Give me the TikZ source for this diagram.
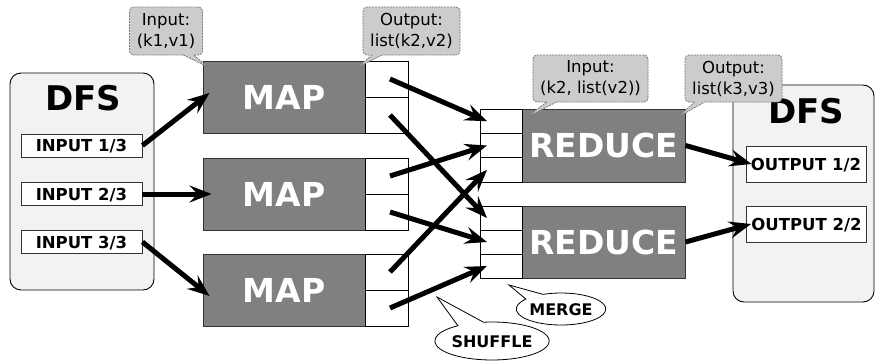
\documentclass[tikz,border=0pt]{standalone}
\usepackage{fontspec}
\setmainfont{DejaVu Sans}
\usetikzlibrary{arrows.meta,shapes.callouts,shapes.geometric}
\definecolor{mapgray}{HTML}{808080}
\definecolor{dfsgray}{HTML}{F2F2F2}
\definecolor{callgray}{HTML}{CCCCCC}
\definecolor{calledge}{HTML}{7A7A7A}
\definecolor{edgedark}{HTML}{333333}
\begin{document}
\begin{tikzpicture}[x=1pt,y=-1pt,
  dfsbox/.style={draw=black, fill=dfsgray, rounded corners=11pt, line width=0.9pt, inner sep=0pt},
  dfstitle/.style={inner sep=0pt, font=\fontsize{34}{36}\selectfont\bfseries, text height=25pt, text depth=0pt},
  iobox/.style={draw=edgedark, fill=white, line width=0.9pt, inner sep=0pt, font=\fontsize{16.5}{18}\selectfont\bfseries, text height=12pt, text depth=0pt},
  proc/.style={draw=edgedark, fill=mapgray, line width=0.9pt, inner sep=0pt, text=white, font=\fontsize{33}{36}\selectfont\bfseries, text height=24pt, text depth=0pt},
  slot/.style={draw=black, fill=white, line width=0.8pt, inner sep=0pt},
  conn/.style={line width=5pt, -{Stealth[length=22pt,width=17pt,inset=8pt]}},
  note/.style={rectangle callout, draw=calledge, dash pattern=on 2pt off 1pt, fill=callgray, rounded corners=4pt, line width=0.8pt, inner sep=0pt, align=center, callout pointer width=10pt, font=\fontsize{16.5}{21}\selectfont},
  bubble/.style={ellipse callout, draw=black, fill=white, line width=0.8pt, inner sep=0pt, callout pointer arc=28, font=\fontsize{16}{18}\selectfont\bfseries, text height=12pt, text depth=0pt}
]
\useasboundingbox (0,0) rectangle (875,362);
\fill[white] (0,0) rectangle (875,362);

% DFS containers
\node[dfsbox, minimum width=144pt, minimum height=217pt] (dfsL) at (82,181.5) {};
\node[dfstitle] (dfsLt) at (83,97.5) {DFS};
\node[dfsbox, minimum width=141pt, minimum height=217pt] (dfsR) at (803.5,193.5) {};
\node[dfstitle] (dfsRt) at (806,111) {DFS};

\node[iobox, minimum width=121pt, minimum height=23pt] (in1) at (81.5,145.5) {INPUT 1/3};
\node[iobox, minimum width=121pt, minimum height=23pt] (in2) at (81.5,194) {INPUT 2/3};
\node[iobox, minimum width=121pt, minimum height=23pt] (in3) at (81.5,242) {INPUT 3/3};
\node[iobox, minimum width=120pt, minimum height=36pt] (out1) at (806,164) {OUTPUT 1/2};
\node[iobox, minimum width=120pt, minimum height=36pt] (out2) at (806.5,224) {OUTPUT 2/2};

% MAP blocks
\node[proc, minimum width=162pt, minimum height=72pt] (map1) at (284,97) {MAP};
\node[slot, minimum width=43pt, minimum height=36pt] (m1a) at (386.5,79) {};
\node[slot, minimum width=43pt, minimum height=36pt] (m1b) at (386.5,115) {};
\node[proc, minimum width=162pt, minimum height=72pt] (map2) at (284,194) {MAP};
\node[slot, minimum width=43pt, minimum height=36pt] (m2a) at (386.5,176) {};
\node[slot, minimum width=43pt, minimum height=36pt] (m2b) at (386.5,212) {};
\node[proc, minimum width=162pt, minimum height=72pt] (map3) at (284,290) {MAP};
\node[slot, minimum width=43pt, minimum height=36pt] (m3a) at (386.5,272) {};
\node[slot, minimum width=43pt, minimum height=36pt] (m3b) at (386.5,308) {};

% REDUCE blocks
\node[proc, minimum width=163pt, minimum height=73pt] (red1) at (603.5,145.5) {REDUCE};
\node[slot, minimum width=42pt, minimum height=24.33pt] (r1a) at (501,121.2) {};
\node[slot, minimum width=42pt, minimum height=24.33pt] (r1b) at (501,145.5) {};
\node[slot, minimum width=42pt, minimum height=24.33pt] (r1c) at (501,169.8) {};
\node[proc, minimum width=163pt, minimum height=72pt] (red2) at (603.5,242) {REDUCE};
\node[slot, minimum width=42pt, minimum height=24pt] (r2a) at (501,218) {};
\node[slot, minimum width=42pt, minimum height=24pt] (r2b) at (501,242) {};
\node[slot, minimum width=42pt, minimum height=24pt] (r2c) at (501,266) {};

% connectors
\draw[conn] (in1.east) -- ([xshift=7pt,yshift=4pt]map1.west);
\draw[conn] (in2.east) -- ([xshift=9pt]map2.west);
\draw[conn] (in3.east) -- ([xshift=7pt,yshift=-6pt]map3.west);

\draw[conn] ([xshift=3.5pt]m1a.center) -- ([xshift=-14pt]r1a.center);
\draw[conn] ([xshift=3.5pt]m1b.center) -- ([xshift=-14pt]r2a.center);
\draw[conn] ([xshift=3.5pt]m2a.center) -- ([xshift=-14pt]r1b.center);
\draw[conn] ([xshift=3.5pt]m2b.center) -- ([xshift=-14pt]r2b.center);
\draw[conn] ([xshift=3.5pt]m3a.center) -- ([xshift=-14pt]r1c.center);
\draw[conn] ([xshift=3.5pt]m3b.center) -- ([xshift=-14pt]r2c.center);

\draw[conn] (red1.east) -- ([xshift=6pt]out1.west);
\draw[conn] (red2.east) -- ([xshift=5pt]out2.west);

% callouts
\coordinate (p1) at (208,67);
\coordinate (p2) at (358,67);
\coordinate (p3) at (527,117);
\coordinate (p4) at (678,117);
\coordinate (p5) at (509,285);
\coordinate (p6) at (437,297);
\node[note, minimum width=73pt, minimum height=48pt, callout absolute pointer=(p1)] (c1) at (166,31) {Input:\\(k1,v1)};
\node[note, minimum width=97pt, minimum height=48pt, callout absolute pointer=(p2)] (c2) at (411.5,31) {Output:\\list(k2,v2)};
\node[note, minimum width=115pt, minimum height=47pt, callout absolute pointer=(p3)] (c3) at (590.5,78.5) {Input:\\(k2, list(v2))};
\node[note, minimum width=97pt, minimum height=47pt, callout absolute pointer=(p4)] (c4) at (733.5,78.5) {Output:\\list(k3,v3)};

\node[bubble, minimum width=88pt, minimum height=32pt, callout absolute pointer=(p5)] (merge) at (561,309) {MERGE};
\node[bubble, minimum width=100pt, minimum height=38pt, callout absolute pointer=(p6)] (shuffle) at (492,341) {SHUFFLE};
\end{tikzpicture}
\end{document}
